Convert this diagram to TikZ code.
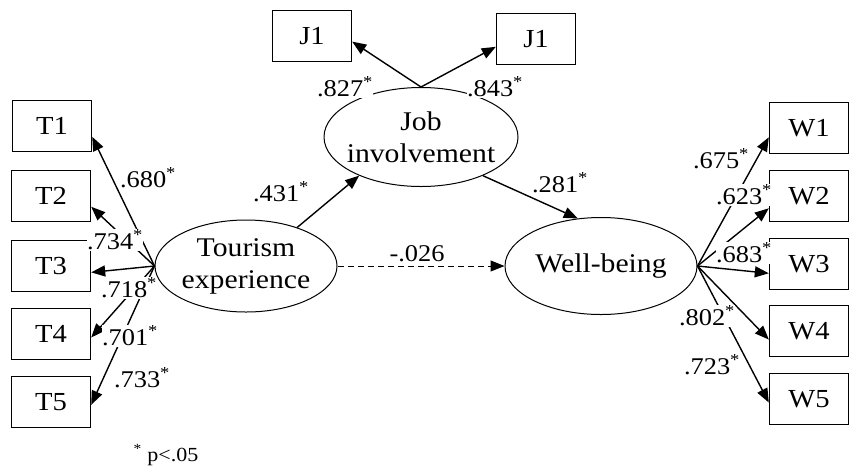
\documentclass[tikz,border=0pt]{standalone}
\usepackage{fontspec}
\setmainfont{Liberation Serif}[FakeStretch=1.1]
\usepackage{tikz}
\usetikzlibrary{positioning, shapes.geometric, arrows.meta}

\tikzset{
  factor/.style={draw, ellipse, line width=1pt, align=center, inner sep=0pt, inner xsep=-6pt,
    font=\fontsize{27}{32}\selectfont},
  indicator/.style={draw, rectangle, line width=1.4pt, minimum width=79pt, minimum height=51pt,
    font=\fontsize{26}{30}\selectfont},
  load/.style={line width=1.4pt, -{Triangle[length=14pt,width=11pt]}},
  coef/.style={fill=white, inner sep=0.5pt, font=\fontsize{24}{26}\selectfont},
}

\begin{document}
\begin{tikzpicture}[x=1pt, y=-1pt]
\useasboundingbox (0,0) rectangle (850,467);

% latent variables
\node (tour) [factor, minimum width=182pt, minimum height=92pt] at (246,266) {Tourism\\experience};
\node (job) [factor, minimum width=194pt, minimum height=99pt] at (421,137) {Job\\involvement};
\node (well) [factor, minimum width=192pt, minimum height=97pt] at (601,266) {Well-being};

% observed items
\node (T1) [indicator] at (52,126) {T1};
\node (T2) [indicator] at (51,196) {T2};
\node (T3) [indicator] at (51,266) {T3};
\node (T4) [indicator] at (51,334) {T4};
\node (T5) [indicator] at (51,402) {T5};
\node (J1a) [indicator] at (312,36) {J1\hspace{16pt}};
\node (J1b) [indicator] at (536,39) {J1\hspace{16pt}};
\node (W1) [indicator] at (809,128) {W1};
\node (W2) [indicator] at (809,196) {W2};
\node (W3) [indicator] at (809,264) {W3};
\node (W4) [indicator] at (809,331) {W4};
\node (W5) [indicator] at (809,399) {W5};

% loadings
\draw [load] (tour.west) -- (T1.-15);
\draw [load] (tour.west) -- (T2.-15);
\draw [load] (tour.west) -- (T3.-9);
\draw [load] (tour.west) -- (T4.-5);
\draw [load] (tour.west) -- (T5.-4);
\draw [load] (job.north) -- (J1a.-8);
\draw [load] (job.north) -- (J1b.191);
\draw [load] (well.east) -- (W1.193);
\draw [load] (well.east) -- (W2.197);
\draw [load] (well.east) -- (W3.193);
\draw [load] (well.east) -- (W4.192);
\draw [load] (well.east) -- (W5.185);

% structural paths
\draw [load] (tour.37) -- (job.212);
\draw [load] (job.-32) -- (well.116);
\draw [load, line width=1pt, dash pattern=on 6pt off 4pt] (tour.east) -- (well.west);

% coefficients
\node (cT1) [coef] at (148,178) {.680\textsuperscript{*}};
\node (cT2) [coef] at (115,240) {.734\textsuperscript{*}};
\node (cT3) [coef] at (129,288) {.718\textsuperscript{*}};
\node (cT4) [coef] at (130,336) {.701\textsuperscript{*}};
\node (cT5) [coef] at (142,378) {.733\textsuperscript{*}};
\node (cJa) [coef] at (345,87) {.827\textsuperscript{*}};
\node (cJb) [coef] at (495,87) {.843\textsuperscript{*}};
\node (cW1) [coef] at (721,159) {.675\textsuperscript{*}};
\node (cW2) [coef] at (744,195) {.623\textsuperscript{*}};
\node (cW3) [coef] at (744,253) {.683\textsuperscript{*}};
\node (cW4) [coef] at (707,316) {.802\textsuperscript{*}};
\node (cW5) [coef] at (712,365) {.723\textsuperscript{*}};
\node (cTJ) [coef] at (281,192) {.431\textsuperscript{*}};
\node (cJW) [coef] at (560,183) {.281\textsuperscript{*}};
\node (cTW) [coef] at (417,254) {-.026};

\node (note) [font=\fontsize{20}{24}\selectfont] at (166,455) {\textsuperscript{*} p<.05};
\end{tikzpicture}
\end{document}
